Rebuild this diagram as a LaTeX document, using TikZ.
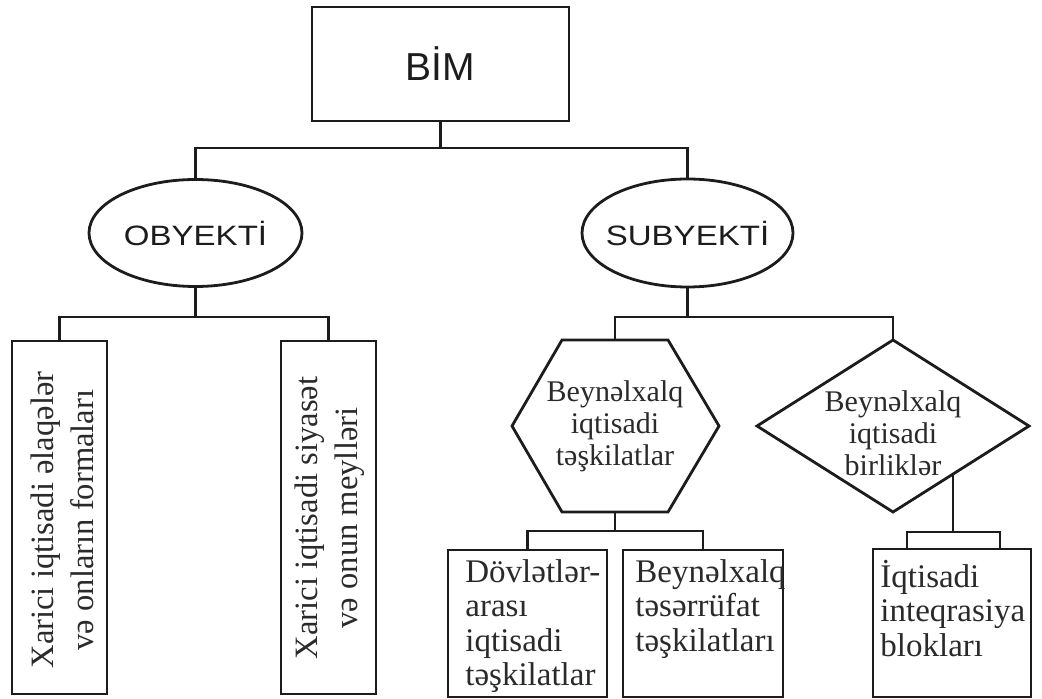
\documentclass[tikz,border=0pt]{standalone}
\usepackage{fontspec}
\setmainfont{Liberation Serif}
\newfontfamily\sansf{Liberation Sans}
\usetikzlibrary{shapes.geometric,calc}
\definecolor{ink}{HTML}{1C1C1C}
\definecolor{txt}{HTML}{2A2A2A}
\begin{document}
\begin{tikzpicture}[x=0.5pt,y=-0.5pt,
  box/.style={draw=ink, line width=1.4pt, rectangle, inner sep=0pt},
  oval/.style={draw=ink, line width=1.4pt, ellipse, inner sep=0pt},
  conn/.style={draw=ink, line width=1.4pt},
  lbl/.style={text=txt, inner sep=0pt},
  sanslbl/.style={text=ink, inner sep=0pt, font=\sansf\fontsize{14}{16}\selectfont},
  boxtext/.style={lbl, anchor=base west, font=\fontsize{16.5}{17.25}\selectfont},
  shapetext/.style={lbl, align=center, font=\fontsize{15}{16}\selectfont},
  rottext/.style={lbl, rotate=90, align=center, font=\fontsize{16.3}{20}\selectfont}
]
\useasboundingbox (0,0) rectangle (1042,699);

% top
\node[box, minimum width=128.5pt, minimum height=57pt,
      font=\sansf\fontsize{19.5}{22}\selectfont, text=ink] (bim) at (440.5,64) {BİM};

% ellipses
\node[oval, minimum width=106.5pt, minimum height=53.5pt] (obj) at (195.5,233) {};
\node[sanslbl] (objt) at (obj) {\scalebox{1.18}[1]{OBYEKTİ}};
\node[oval, minimum width=105.5pt, minimum height=54pt] (sub) at (687.5,233) {};
\node[sanslbl] (subt) at (sub) {\scalebox{1.18}[1]{SUBYEKTİ}};

% left boxes
\node[box, minimum width=47.5pt, minimum height=176.5pt] (L1) at (59.5,517.5) {};
\node[rottext] (L1t) at (62,520) {Xarici iqtisadi əlaqələr\\və onların formaları};
\node[box, minimum width=47.5pt, minimum height=176.5pt] (L2) at (328.5,517.5) {};
\node[rottext] (L2t) at (330,518) {Xarici iqtisadi siyasət\\və onun meylləri};

% hexagon
\coordinate (hexc) at (615,426);
\draw[conn, line join=miter] ($(hexc)+(-53,-86)$) -- ($(hexc)+(53,-86)$) -- ($(hexc)+(104,0)$)
   -- ($(hexc)+(53,86)$) -- ($(hexc)+(-53,86)$) -- ($(hexc)+(-103,0)$) -- cycle;
\coordinate (hexT) at ($(hexc)+(0,-86)$);
\coordinate (hexB) at ($(hexc)+(0,86)$);
\node[shapetext] (hex) at (hexc) {Beynəlxalq\\iqtisadi\\təşkilatlar};

% diamond
\node[draw=ink, line width=1.4pt, diamond, inner sep=0pt, outer sep=0pt,
      minimum width=136pt, minimum height=86pt] (dia) at (893,426) {};
\node[shapetext] (diat) at ($(dia)+(0,7)$) {Beynəlxalq\\iqtisadi\\birliklər};
\coordinate (diaP) at ($(dia.east)!0.559!(dia.south)$);

% bottom boxes
\node[box, minimum width=79.5pt, minimum height=73.5pt] (A) at (527.5,623.5) {};
\node[boxtext] (At) at (465,582) {\begin{tabular}[t]{@{}l@{}}Dövlətlər-\\arası\\iqtisadi\\təşkilatlar\end{tabular}};
\node[box, minimum width=80pt, minimum height=73.5pt] (B) at (703,623.5) {};
\node[boxtext] (Bt) at (635,582) {\begin{tabular}[t]{@{}l@{}}Beynəlxalq\\təsərrüfat\\təşkilatları\end{tabular}};
\node[box, minimum width=79pt, minimum height=74pt] (C) at (952,623) {};
\node[boxtext] (Ct) at (880,587) {\begin{tabular}[t]{@{}l@{}}İqtisadi\\inteqrasiya\\blokları\end{tabular}};

% connectors
\coordinate (topbar) at (0,148);
\draw[conn] (bim.south) -- (bim.south |- topbar);
\draw[conn] (obj.north) -- (obj.north |- topbar) -| (sub.north);

\coordinate (objbar) at (0,317);
\draw[conn] (obj.south) -- (obj.south |- objbar);
\draw[conn] (L1.north) -- (L1.north |- objbar) -| (L2.north);

\draw[conn] (sub.south) -- (sub.south |- objbar);
\draw[conn] (hexT) -- (hexT |- objbar) -| (dia.north);

\coordinate (hexbar) at (0,531);
\draw[conn] (hexB) -- (hexB |- hexbar);
\draw[conn] (A.north) -- (A.north |- hexbar) -| (B.north);

\coordinate (cL) at (907,532);
\coordinate (cR) at (1000,532);
\draw[conn] (diaP) -- (diaP |- cL);
\draw[conn] (C.north -| cL) -- (cL) -- (cR) -- (C.north -| cR);
\end{tikzpicture}
\end{document}
